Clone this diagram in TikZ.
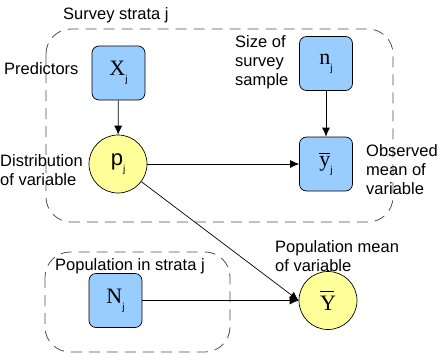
\documentclass[tikz,border=0pt]{standalone}
\usepackage{fontspec}
\setmainfont{Liberation Sans}
\newfontfamily\serifnf{Liberation Serif}
\usetikzlibrary{arrows.meta}
\definecolor{boxblue}{HTML}{99CCFF}
\definecolor{circyellow}{HTML}{FFFF99}
\definecolor{dashgray}{HTML}{505050}
\newcommand{\subj}{\raisebox{-7pt}{\fontsize{10}{10}\selectfont j}}
\newcommand{\barred}[2]{\makebox[0pt][l]{\raisebox{#2}{\rule{#1}{0.8pt}}}}
\tikzset{
  varbox/.style={draw=black, fill=boxblue, rounded corners=7pt, minimum width=53pt, minimum height=54pt, inner sep=0pt, line width=0.7pt},
  varcirc/.style={draw=black, fill=circyellow, circle, minimum size=58pt, inner sep=0pt, line width=0.7pt},
  plate/.style={draw=dashgray, dash pattern=on 11pt off 7pt, rounded corners=25pt, line width=0.8pt},
  lbl/.style={font=\fontsize{16.5}{19}\selectfont, inner sep=0pt, align=left},
  big/.style={},
  conn/.style={-{Latex[length=9pt,width=8pt]}, line width=0.7pt}
}
\newcommand{\bigserif}{\fontsize{22}{22}\selectfont\serifnf}
\begin{document}
\begin{tikzpicture}[x=1pt,y=-1pt]
\useasboundingbox (0,0) rectangle (439,354);
% plates
\draw[plate] (46,29) rectangle (393,222);
\draw[plate] (45,252) rectangle (230,352);
% nodes
\node[varbox] (X) at (118.5,73) {{\bigserif X}\subj};
\node[varbox] (n) at (326,63.5) {{\bigserif n}\subj};
\node[varbox] (y) at (326,164) {{\bigserif\barred{11pt}{13pt}y}\subj};
\node[varbox] (N) at (115.5,300.5) {{\bigserif N}\subj};
\node[varcirc] (p) at (118,164) {{\fontsize{22}{22}\selectfont p}\subj};
\node[varcirc] (Y) at (328,300.5) {{\bigserif\barred{14pt}{19pt}Y}};
% connectors
\draw[conn] (X) -- (p);
\draw[conn] (n) -- (y);
\draw[conn] (p) -- (y);
\draw[conn] (p) -- (Y.west);
\draw[conn] (N) -- (Y.west);
% labels
\node[lbl, anchor=west] (ls) at (63,15) {Survey strata j};
\node[lbl, anchor=west] (lp) at (4,69) {Predictors};
\node[lbl, anchor=west] (ld) at (0,170) {Distribution\\of variable};
\node[lbl, anchor=west] (lz) at (235,62) {Size of\\survey\\sample};
\node[lbl, anchor=west] (lo) at (366,170) {Observed\\mean of\\variable};
\node[lbl, anchor=west] (lm) at (275,256) {Population mean\\of variable};
\node[lbl, anchor=west] (lr) at (55,266) {Population in strata j};
\end{tikzpicture}
\end{document}
